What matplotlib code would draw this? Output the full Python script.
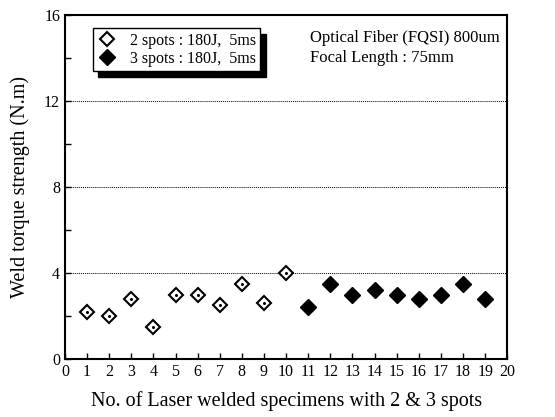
import matplotlib
matplotlib.use("Agg")
import matplotlib.pyplot as plt

plt.rcParams["font.family"] = ["Liberation Serif", "DejaVu Serif"]

# specimens welded with 2 spots
spec_2 = [1, 2, 3, 4, 5, 6, 7, 8, 9, 10]
torque_2 = [2.2, 2.0, 2.8, 1.5, 3.0, 3.0, 2.5, 3.5, 2.6, 4.0]
# specimens welded with 3 spots
spec_3 = [11, 12, 13, 14, 15, 16, 17, 18, 19]
torque_3 = [2.4, 3.5, 3.0, 3.2, 3.0, 2.8, 3.0, 3.5, 2.8]

labels = ["2 spots : 180J,  5ms", "3 spots : 180J,  5ms"]
x_ticks = list(range(0, 21))
y_ticks = [0, 4, 8, 12, 16]
y_minor = [2, 6, 10, 14]

fig = plt.figure(figsize=(5.55, 4.17), dpi=100)
ax = fig.add_axes([0.117, 0.139, 0.797, 0.825])

for y in [4, 8, 12]:
    ax.axhline(y, color="black", ls=(0, (1, 1)), lw=0.7, zorder=1)

ax.plot(spec_2, torque_2, ls="none", marker="D", ms=7, mfc="white",
        mec="black", mew=1.5, label=labels[0], zorder=3)
ax.plot(spec_2, torque_2, ls="none", marker="o", ms=1.2, color="black", zorder=4)
ax.plot(spec_3, torque_3, ls="none", marker="D", ms=8, color="black",
        label=labels[1], zorder=3)

ax.set_xlim(0, 20)
ax.set_ylim(0, 16)
ax.set_xticks(x_ticks)
ax.set_yticks(y_ticks)
ax.set_yticks(y_minor, minor=True)
ax.tick_params(direction="in", length=4, width=1, labelsize=11.5)
ax.tick_params(which="minor", direction="in", length=4, width=1)
for s in ax.spines.values():
    s.set_linewidth(1.5)

ax.set_xlabel("No. of Laser welded specimens with 2 & 3 spots", fontsize=14.5, labelpad=8)
ax.set_ylabel("Weld torque strength (N.m)", fontsize=14.5, labelpad=10)

leg = ax.legend(loc="upper left", bbox_to_anchor=(0.045, 0.985), fancybox=False,
                shadow={"color": "black", "alpha": 1, "ox": 4, "oy": -4},
                framealpha=1, edgecolor="black", fontsize=11.5,
                handletextpad=0.8, borderpad=0.3, labelspacing=0.1,
                handlelength=1.2)
leg.get_frame().set_linewidth(1.0)

ax.text(0.555, 0.955, "Optical Fiber (FQSI) 800um\nFocal Length : 75mm",
        transform=ax.transAxes, ha="left", va="top", fontsize=12,
        linespacing=1.3)

fig.savefig("out.png", dpi=100)
